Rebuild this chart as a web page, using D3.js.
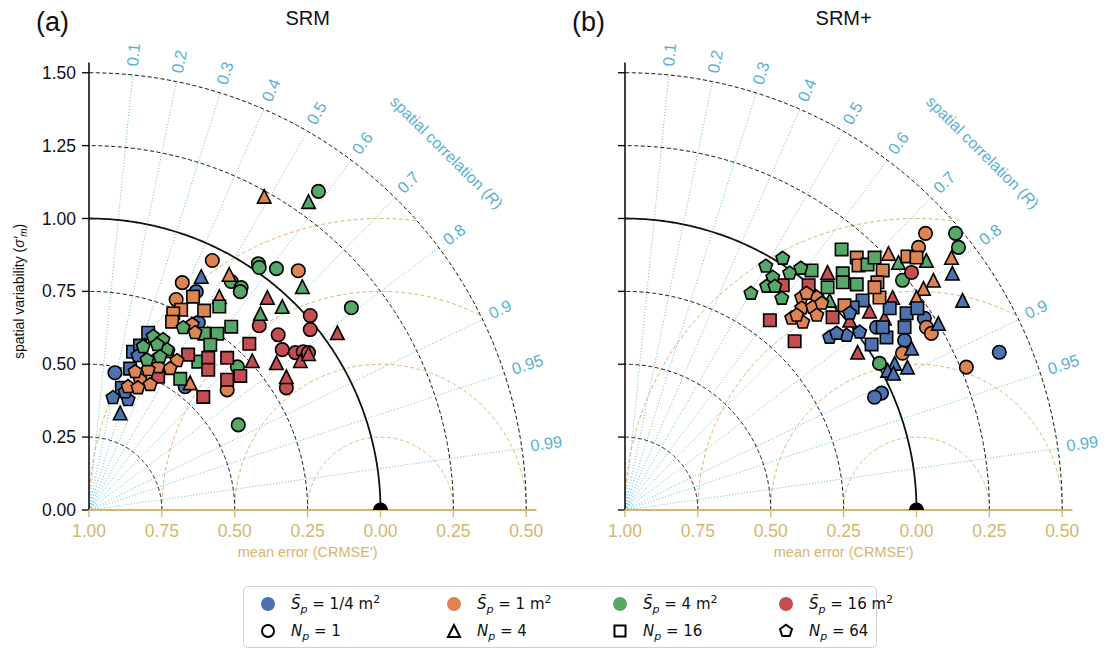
<!DOCTYPE html>
<html>
<head>
<meta charset="utf-8">
<script src="https://cdn.jsdelivr.net/npm/d3@7"></script>
<style>
  body { margin: 0; background: #fff; }
  svg { font-family: "Liberation Sans", Arial, sans-serif; }
</style>
</head>
<body>
<svg id="chart" width="1109" height="654"></svg>
<script>
// categories
var sizeLabels = ["1/4", "1", "4", "16"];
var npLabels = ["1", "4", "16", "64"];
var panelTitles = ["SRM", "SRM+"];
var panelLetters = ["(a)", "(b)"];

// axis ticks / grid values
var stdTicks = [0, 0.25, 0.5, 0.75, 1.0, 1.25, 1.5];
var stdRings = [0.25, 0.5, 0.75, 1.0, 1.25, 1.5];
var crmseRings = [0.25, 0.5, 0.75, 1.0];
var corrTicks = [0.1, 0.2, 0.3, 0.4, 0.5, 0.6, 0.7, 0.8, 0.9, 0.95, 0.99];

// points: [size index, Np index, x (sigma*R), y (sigma*sqrt(1-R^2))]
var srmPoints = [
  [0,0,0.089,0.471],[0,0,0.368,0.749],[0,0,0.330,0.423],[0,0,0.375,0.643],
  [0,1,0.385,0.801],[0,1,0.107,0.333],
  [0,2,0.141,0.485],[0,2,0.151,0.543],[0,2,0.203,0.608],[0,2,0.113,0.419],[0,2,0.175,0.564],
  [0,3,0.082,0.385],[0,3,0.134,0.378],[0,3,0.124,0.405],[0,3,0.168,0.529],
  [1,0,0.423,0.856],[1,0,0.718,0.821],[1,0,0.320,0.780],[1,0,0.299,0.722],[1,0,0.474,0.412],
  [1,1,0.601,1.076],[1,1,0.481,0.808],[1,1,0.447,0.732],[1,1,0.347,0.436],
  [1,2,0.357,0.732],[1,2,0.316,0.687],[1,2,0.395,0.684],[1,2,0.289,0.674],[1,2,0.285,0.646],
  [1,3,0.354,0.636],[1,3,0.364,0.608],[1,3,0.227,0.515],[1,3,0.271,0.543],[1,3,0.302,0.512],
  [1,3,0.278,0.485],[1,3,0.237,0.491],[1,3,0.203,0.481],[1,3,0.175,0.447],[1,3,0.134,0.423],
  [1,3,0.168,0.419],[1,3,0.210,0.430],[1,3,0.158,0.474],
  [2,0,0.787,1.093],[2,0,0.581,0.845],[2,0,0.584,0.832],[2,0,0.643,0.828],[2,0,0.488,0.784],
  [2,0,0.522,0.763],[2,0,0.900,0.694],[2,0,0.509,0.491],[2,0,0.512,0.292],[2,0,0.519,0.749],
  [2,1,0.753,1.058],[2,1,0.732,0.766],[2,1,0.663,0.698],[2,1,0.588,0.674],
  [2,2,0.447,0.698],[2,2,0.488,0.629],[2,2,0.395,0.605],[2,2,0.440,0.605],[2,2,0.313,0.450],
  [2,2,0.375,0.509],[2,2,0.416,0.567],
  [2,3,0.323,0.625],[2,3,0.220,0.595],[2,3,0.254,0.584],[2,3,0.268,0.550],[2,3,0.234,0.567],
  [2,3,0.186,0.560],[2,3,0.199,0.515],[2,3,0.244,0.526],
  [3,0,0.759,0.667],[3,0,0.584,0.632],[3,0,0.759,0.619],[3,0,0.649,0.601],[3,0,0.663,0.550],
  [3,0,0.708,0.540],[3,0,0.735,0.543],[3,0,0.753,0.540],[3,0,0.677,0.419],
  [3,1,0.612,0.729],[3,1,0.852,0.608],[3,1,0.725,0.512],[3,1,0.753,0.536],[3,1,0.560,0.512],
  [3,1,0.643,0.505],[3,1,0.677,0.457],
  [3,2,0.550,0.570],[3,2,0.409,0.522],[3,2,0.409,0.481],[3,2,0.474,0.522],[3,2,0.474,0.447],
  [3,2,0.340,0.533],[3,2,0.519,0.460],[3,2,0.392,0.388],[3,2,0.237,0.457]
];

var srmPlusPoints = [
  [0,0,1.284,0.541],[0,0,0.880,0.401],[0,0,0.856,0.387],[0,0,1.027,0.658],[0,0,0.863,0.627],[0,0,0.959,0.582],
  [0,1,1.123,0.812],[0,1,1.158,0.719],[0,1,1.075,0.640],[0,1,0.983,0.555],[0,1,0.925,0.503],
  [0,1,0.969,0.490],[0,1,0.901,0.479],[0,1,0.921,0.469],
  [0,2,0.908,0.692],[0,2,0.966,0.675],[0,2,1.003,0.692],[0,2,0.959,0.627],[0,2,0.897,0.592],
  [0,2,0.884,0.627],[0,2,0.846,0.568],[0,2,0.815,0.719],[0,2,0.781,0.695],
  [0,3,0.771,0.675],[0,3,0.805,0.610],[0,3,0.760,0.599],[0,3,0.702,0.592],[0,3,0.726,0.606],
  [1,0,1.031,0.949],[1,0,1.007,0.901],[1,0,1.171,0.490],[1,0,1.034,0.627],[1,0,1.051,0.606],[1,0,0.952,0.538],
  [1,1,1.120,0.866],[1,1,1.058,0.788],[1,1,1.024,0.760],[1,1,1.000,0.729],[1,1,0.904,0.880],
  [1,2,0.969,0.870],[1,2,1.000,0.866],[1,2,0.884,0.822],[1,2,0.795,0.866],[1,2,0.866,0.781],
  [1,2,0.873,0.729],[1,2,0.753,0.702],[1,2,0.801,0.839],[1,2,0.856,0.764],
  [1,3,0.606,0.729],[1,3,0.658,0.729],[1,3,0.606,0.692],[1,3,0.644,0.695],[1,3,0.572,0.658],
  [1,3,0.610,0.644],[1,3,0.658,0.668],[1,3,0.589,0.668],[1,3,0.623,0.743],[1,3,0.675,0.709],
  [2,0,1.134,0.949],[2,0,1.144,0.901],[2,0,0.952,0.788],[2,0,0.873,0.503],
  [2,1,1.034,0.856],[2,1,0.938,0.849],[2,1,0.702,0.719],
  [2,2,0.743,0.894],[2,2,0.695,0.764],[2,2,0.747,0.812],[2,2,0.747,0.781],[2,2,0.795,0.774],
  [2,2,0.832,0.842],[2,2,0.856,0.866],[2,2,0.640,0.822],
  [2,3,0.541,0.863],[2,3,0.483,0.836],[2,3,0.565,0.812],[2,3,0.603,0.829],[2,3,0.507,0.798],
  [2,3,0.486,0.767],[2,3,0.514,0.767],[2,3,0.432,0.743],[2,3,0.538,0.726],
  [3,0,0.983,0.815],
  [3,1,0.695,0.815],[3,1,0.890,0.658],[3,1,0.839,0.682],[3,1,0.918,0.729],[3,1,0.771,0.651],[3,1,0.798,0.541],
  [3,2,0.541,0.771],[3,2,0.630,0.771],[3,2,0.497,0.651],[3,2,0.582,0.579],[3,2,0.712,0.661]
];

var sizeColors = ["#4c72b0", "#dd8452", "#55a868", "#c44e52"];
var gold = "#d5b66c";
var corrColor = "#5ab0d2";

var svg = d3.select("#chart");
var k = 291.5;      // px per std unit
var baseY = 510;

// marker path, ms = nominal marker size in px
function markerPath(shape, ms) {
  var h = ms / 2, p = d3.path();
  if (shape == 0) {
    p.arc(0, 0, h, 0, 2 * Math.PI);
  } else if (shape == 1) {
    p.moveTo(0, -h); p.lineTo(-h, h); p.lineTo(h, h); p.closePath();
  } else if (shape == 2) {
    p.rect(-h * 0.92, -h * 0.92, h * 1.84, h * 1.84);
  } else {
    for (var i = 0; i < 5; i++) {
      var a = -Math.PI / 2 + i * 2 * Math.PI / 5;
      var r = h * 1.05;
      if (i == 0) p.moveTo(r * Math.cos(a), r * Math.sin(a));
      else p.lineTo(r * Math.cos(a), r * Math.sin(a));
    }
    p.closePath();
  }
  return p.toString();
}

function drawPanel(idx, ox, points, showYLabels) {
  var x = d3.scaleLinear().domain([0, 1.5]).range([ox, ox + 1.5 * k]);
  var y = d3.scaleLinear().domain([0, 1.5]).range([baseY, baseY - 1.5 * k]);
  var g = svg.append("g");
  var R = x(1.5) - x(0);

  // clip to the quarter disc
  var qp = d3.path();
  qp.moveTo(x(0), y(0)); qp.lineTo(x(1.5), y(0));
  qp.arc(x(0), y(0), R, 0, -Math.PI / 2, true); qp.closePath();
  g.append("clipPath").attr("id", "clip" + idx).append("path").attr("d", qp.toString());

  var line = d3.line().x(function(d) { return x(d[0]); }).y(function(d) { return y(d[1]); });
  var quarter = d3.range(0, 90.5, 0.5).map(function(d) { return d * Math.PI / 180; });
  var half = d3.range(0, 180.5, 0.5).map(function(d) { return d * Math.PI / 180; });

  // correlation spokes
  corrTicks.forEach(function(c) {
    var t = Math.acos(c);
    g.append("line")
      .attr("x1", x(0)).attr("y1", y(0))
      .attr("x2", x(1.5 * Math.cos(t))).attr("y2", y(1.5 * Math.sin(t)))
      .attr("stroke", corrColor).attr("stroke-width", 0.9)
      .attr("stroke-dasharray", "1,2");
    var rl = 1.53;
    g.append("text")
      .attr("transform", "translate(" + x(rl * Math.cos(t)) + "," + y(rl * Math.sin(t)) + ") rotate(" + (-t * 180 / Math.PI) + ")")
      .attr("dominant-baseline", "middle")
      .attr("fill", corrColor).attr("font-size", 16.5)
      .text(String(c));
  });

  // spatial correlation label
  var tl = Math.PI / 4, rl2 = 1.73;
  var lab = g.append("text")
    .attr("transform", "translate(" + x(rl2 * Math.cos(tl)) + "," + y(rl2 * Math.sin(tl)) + ") rotate(45)")
    .attr("text-anchor", "middle").attr("dominant-baseline", "middle")
    .attr("fill", corrColor).attr("font-size", 16);
  lab.append("tspan").text("spatial correlation (");
  lab.append("tspan").attr("font-style", "italic").text("R");
  lab.append("tspan").text(")");

  // crmse arcs round the reference point
  crmseRings.forEach(function(r) {
    g.append("path")
      .attr("d", line(half.map(function(t) { return [1 + r * Math.cos(t), r * Math.sin(t)]; })))
      .attr("fill", "none").attr("stroke", gold).attr("stroke-width", 1)
      .attr("stroke-dasharray", "4,2.5")
      .attr("clip-path", "url(#clip" + idx + ")");
  });

  // std arcs
  stdRings.forEach(function(r) {
    g.append("path")
      .attr("d", line(quarter.map(function(t) { return [r * Math.cos(t), r * Math.sin(t)]; })))
      .attr("fill", "none").attr("stroke", "#111")
      .attr("stroke-width", r == 1 ? 1.8 : 1)
      .attr("stroke-dasharray", r == 1 ? null : "4,2.5");
  });

  // y axis
  g.append("line").attr("x1", x(0)).attr("x2", x(0))
    .attr("y1", y(0)).attr("y2", y(1.535))
    .attr("stroke", "#111").attr("stroke-width", 1.6);
  stdTicks.forEach(function(v) {
    g.append("line").attr("x1", x(0) - 7).attr("x2", x(0))
      .attr("y1", y(v)).attr("y2", y(v))
      .attr("stroke", "#111").attr("stroke-width", 1.4);
    if (showYLabels) {
      g.append("text").attr("x", x(0) - 13).attr("y", y(v))
        .attr("text-anchor", "end").attr("dominant-baseline", "central")
        .attr("font-size", 17.5).attr("fill", "#111")
        .text(d3.format(".2f")(v));
    }
  });

  // x axis (mean error)
  g.append("line").attr("x1", x(0)).attr("x2", x(1.535))
    .attr("y1", y(0)).attr("y2", y(0))
    .attr("stroke", gold).attr("stroke-width", 1.8);
  stdTicks.forEach(function(v) {
    g.append("line").attr("x1", x(v)).attr("x2", x(v))
      .attr("y1", y(0)).attr("y2", y(0) + 7)
      .attr("stroke", gold).attr("stroke-width", 1.4);
    g.append("text").attr("x", x(v)).attr("y", y(0) + 21)
      .attr("text-anchor", "middle").attr("dominant-baseline", "central")
      .attr("font-size", 17.5).attr("fill", gold)
      .text(d3.format(".2f")(Math.abs(1 - v)));
  });
  g.append("text").attr("x", x(0.75)).attr("y", y(0) + 42)
    .attr("text-anchor", "middle").attr("dominant-baseline", "central")
    .attr("font-size", 14.5).attr("fill", gold)
    .text("mean error (CRMSE')");

  // y label
  if (showYLabels) {
    var yl = g.append("text")
      .attr("transform", "translate(19," + y(0.75) + ") rotate(-90)")
      .attr("text-anchor", "middle").attr("dominant-baseline", "central")
      .attr("font-size", 14).attr("fill", "#111");
    yl.append("tspan").text("spatial variability (");
    yl.append("tspan").attr("font-style", "italic").text("σ′");
    yl.append("tspan").attr("font-style", "italic").attr("font-size", 10).attr("dy", 4).text("m");
    yl.append("tspan").attr("dy", -4).text(")");
  }

  // reference point
  g.append("circle").attr("cx", x(1)).attr("cy", y(0)).attr("r", 7.5)
    .attr("fill", "#000").attr("clip-path", "url(#clip" + idx + ")");

  // model points, drawn Np group by Np group
  var ordered = points.slice().sort(function(a, b) { return a[1] - b[1] || a[0] - b[0]; });
  g.selectAll("path.pt").data(ordered).enter().append("path")
    .attr("class", "pt")
    .attr("transform", function(d) { return "translate(" + x(d[2]) + "," + y(d[3]) + ")"; })
    .attr("d", function(d) { return markerPath(d[1], 13.5); })
    .attr("fill", function(d) { return sizeColors[d[0]]; })
    .attr("stroke", "#000").attr("stroke-width", 1.6);

  // titles
  g.append("text").attr("x", x(0.75)).attr("y", 25)
    .attr("text-anchor", "middle").attr("font-size", 20).attr("fill", "#111")
    .text(panelTitles[idx]);
  g.append("text").attr("x", ox - 53).attr("y", 31)
    .attr("font-size", 27).attr("fill", "#111")
    .text(panelLetters[idx]);
}

drawPanel(0, 89, srmPoints, true);
drawPanel(1, 625, srmPlusPoints, false);

// legend
var leg = svg.append("g").attr("font-family", "'DejaVu Sans', sans-serif");
leg.append("rect").attr("x", 243.5).attr("y", 586.5).attr("width", 633).attr("height", 61)
  .attr("rx", 4).attr("fill", "#fff").attr("stroke", "#cfcfcf").attr("stroke-width", 1);
var colX = [268, 454, 620, 786];
var textGap = 23;
var row1 = 604, row2 = 631;
sizeLabels.forEach(function(s, i) {
  leg.append("circle").attr("cx", colX[i]).attr("cy", row1).attr("r", 7)
    .attr("fill", sizeColors[i]);
  var t = leg.append("text").attr("x", colX[i] + textGap).attr("y", row1 + 5)
    .attr("font-size", 15).attr("fill", "#111");
  t.append("tspan").attr("font-style", "italic").text("S\u0304");
  t.append("tspan").attr("font-style", "italic").attr("font-size", 11).attr("dy", 4).text("p");
  t.append("tspan").attr("dy", -4).text(" = " + s + " m");
  t.append("tspan").attr("font-size", 11).attr("dy", -6).text("2");
});
npLabels.forEach(function(n, i) {
  leg.append("path").attr("transform", "translate(" + colX[i] + "," + row2 + ")")
    .attr("d", markerPath(i, 12))
    .attr("fill", "none").attr("stroke", "#000").attr("stroke-width", 2);
  var t = leg.append("text").attr("x", colX[i] + textGap).attr("y", row2 + 5)
    .attr("font-size", 15).attr("fill", "#111");
  t.append("tspan").attr("font-style", "italic").text("N");
  t.append("tspan").attr("font-style", "italic").attr("font-size", 11).attr("dy", 4).text("p");
  t.append("tspan").attr("dy", -4).text(" = " + n);
});
</script>
</body>
</html>
